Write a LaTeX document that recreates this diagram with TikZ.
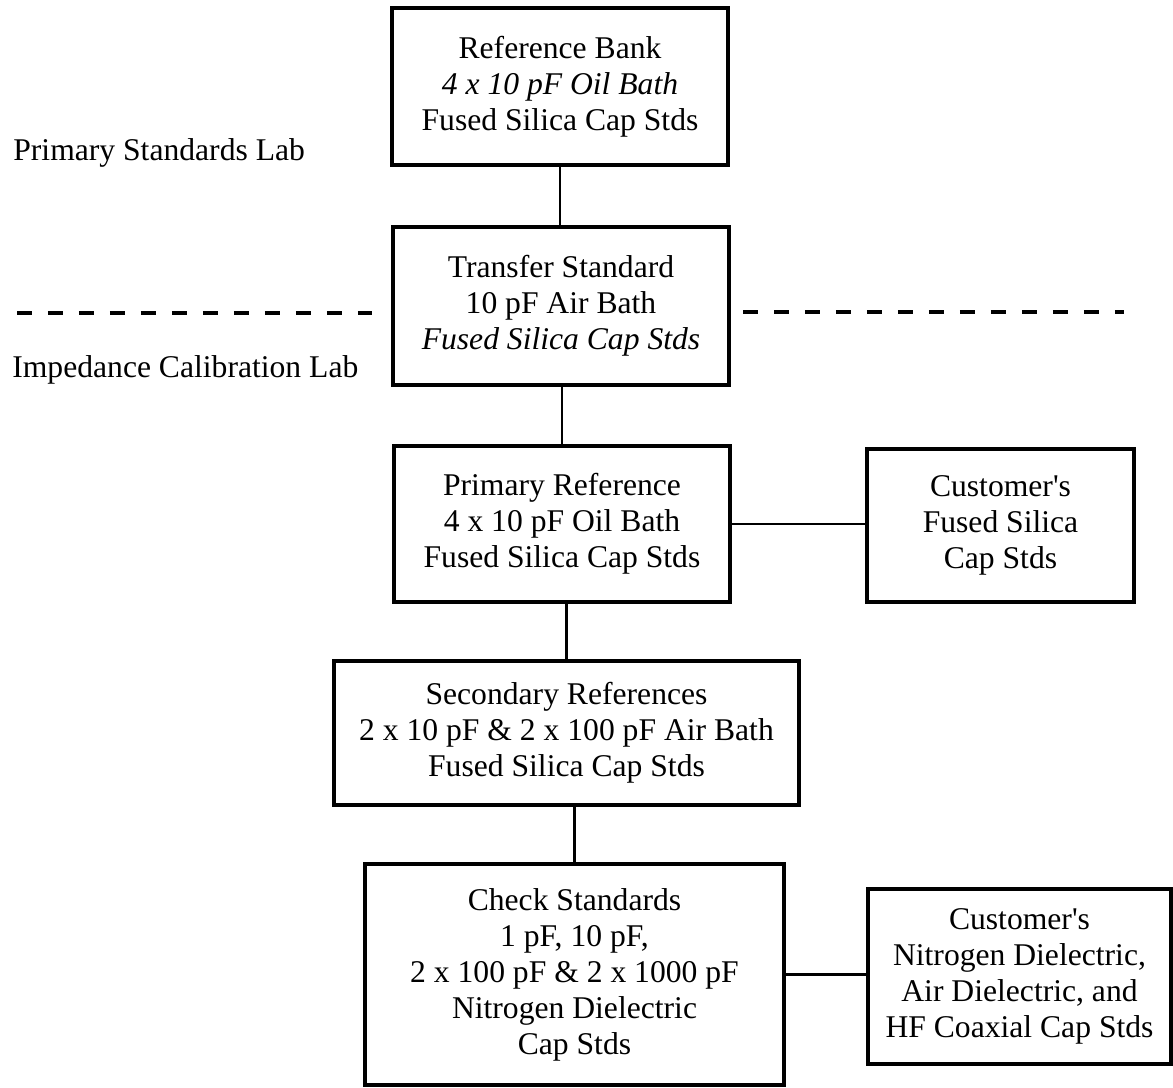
\documentclass[tikz,border=0pt]{standalone}
\usepackage{fontspec}
\setmainfont{Liberation Serif}
\tikzset{
    box/.style={draw, line width=2.6pt, align=center, inner sep=0pt,
        font=\fontsize{18}{20.5}\selectfont},
    link/.style={line width=1.5pt},
    divider/.style={line width=2.2pt, dash pattern=on 0.3cm off 0.32cm},
    lab/.style={anchor=base west, inner sep=0pt, font=\fontsize{18}{20.5}\selectfont}
}
\begin{document}
\begin{tikzpicture}[x=0.02cm, y=-0.02cm]
    \useasboundingbox (0, 0) rectangle (1173, 1088);
    \node[box, minimum width=6.72cm, minimum height=3.14cm] (ref) at (560, 86.5)
        {Reference Bank\\ \textit{4 x 10 pF Oil Bath}\\ Fused Silica Cap Stds};
    \node[box, minimum width=6.72cm, minimum height=3.16cm] (transfer) at (561, 306)
        {Transfer Standard\\ 10 pF Air Bath\\ \textit{Fused Silica Cap Stds}};
    \node[box, minimum width=6.72cm, minimum height=3.12cm] (primary) at (562, 524)
        {Primary Reference\\ 4 x 10 pF Oil Bath\\ Fused Silica Cap Stds};
    \node[box, minimum width=5.34cm, minimum height=3.06cm] (custsilica) at (1000.5, 525.5)
        {Customer\textquotesingle s\\ Fused Silica\\ Cap Stds};
    \node[box, minimum width=9.3cm, minimum height=2.88cm] (secondary) at (566.5, 733)
        {Secondary References\\ 2 x 10 pF \& 2 x 100 pF Air Bath\\ Fused Silica Cap Stds};
    \node[box, minimum width=8.38cm, minimum height=4.42cm] (check) at (574.5, 974.5)
        {Check Standards\\ 1 pF, 10 pF,\\ 2 x 100 pF \& 2 x 1000 pF\\ Nitrogen Dielectric\\ Cap Stds};
    \node[box, minimum width=6.06cm, minimum height=3.5cm] (custnitro) at (1019.5, 976.5)
        {Customer\textquotesingle s\\ Nitrogen Dielectric,\\ Air Dielectric, and\\ HF Coaxial Cap Stds};

    \draw[link] (ref.south) -- (ref.south |- transfer.north);
    \draw[link] (primary.north) -- (primary.north |- transfer.south);
    \draw[link] (secondary.north) -- (secondary.north |- primary.south);
    \draw[link] (check.north) -- (check.north |- secondary.south);
    \draw[link] (primary.east) -- (primary.east -| custsilica.west);
    \draw[link] (check.east) -- (check.east -| custnitro.west);

    \draw[divider] (17, 313) -- (372, 313);
    \draw[divider] (743, 312) -- (1124, 312);
    \node[lab] (pslab) at (13, 160) {Primary Standards Lab};
    \node[lab] (iclab) at (12, 377) {Impedance Calibration Lab};
\end{tikzpicture}
\end{document}
